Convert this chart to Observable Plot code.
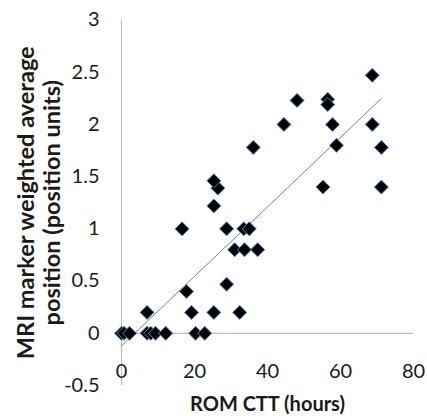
<!DOCTYPE html>
<html>
<head>
<meta charset="utf-8">
<script src="https://cdn.jsdelivr.net/npm/d3@7"></script>
<script src="https://cdn.jsdelivr.net/npm/@observablehq/plot@0.6"></script>
<style>
  html, body { margin: 0; padding: 0; background: #fff; }
  #chart svg { display: block; }
</style>
</head>
<body>
<div id="chart"></div>
<script>
const xHours = [0, 0.7, 2.2, 7, 8, 9.3, 12.1, 20.3, 22.8,
  7, 19.2, 25.3, 32.4,
  17.8, 28.8,
  31, 33.7, 37.3,
  16.6, 28.8, 33.5, 35,
  25.3, 26.4, 25.3,
  36.1, 44.5, 48.1, 56.5, 56.5, 57.8, 58.9, 55.2,
  68.7, 68.7, 71.2, 71.2];
const yPos = [0, 0, 0, 0, 0, 0, 0, 0, 0,
  0.2, 0.2, 0.2, 0.2,
  0.4, 0.47,
  0.8, 0.8, 0.8,
  1, 1, 1, 1,
  1.22, 1.39, 1.46,
  1.78, 2, 2.23, 2.24, 2.19, 2, 1.8, 1.4,
  2.47, 2, 1.78, 1.4];
const xTicks = [0, 20, 40, 60, 80];
const yTicks = [-0.5, 0, 0.5, 1, 1.5, 2, 2.5, 3];
const xTitle = "ROM CTT (hours)";
const yTitle = "MRI marker weighted average\nposition (position units)";

const data = xHours.map((x, i) => ({x, y: yPos[i]}));

const chart = Plot.plot({
  width: 427,
  height: 416,
  marginLeft: 121,
  marginRight: 14,
  marginTop: 19.5,
  marginBottom: 31,
  style: {fontFamily: "Lato, sans-serif", background: "#fff", overflow: "visible"},
  x: {domain: [0, 80]},
  y: {domain: [-0.5, 3]},
  marks: [
    Plot.ruleX([0], {y1: -0.5, y2: 3, stroke: "#bcbcbc", strokeWidth: 1.2}),
    Plot.ruleY([0], {x1: 0, x2: 80, stroke: "#bcbcbc", strokeWidth: 1.2}),
    Plot.axisY({ticks: yTicks, tickFormat: d => String(d), tickSize: 0, tickPadding: 22,
      fontSize: 20, fill: "#1a1a1a", label: null}),
    Plot.axisX({ticks: xTicks, tickFormat: d => String(d), tickSize: 0, tickPadding: 0,
      dy: -22, fontSize: 20, fill: "#1a1a1a", label: null}),
    Plot.linearRegressionY(data, {x: "x", y: "y", ci: 0, stroke: "#7f7f7f", strokeWidth: 1}),
    Plot.dot(data, {x: "x", y: "y", symbol: "diamond2", r: 6.3, fill: "#000", stroke: "#4f81bd", strokeWidth: 1}),
    Plot.text([xTitle], {frameAnchor: "bottom", dy: 25, fontSize: 20, fontWeight: "bold", fill: "#1a1a1a"}),
    Plot.text([yTitle], {frameAnchor: "left", textAnchor: "middle", rotate: -90, dx: -83, dy: 0, fontSize: 23.5, fontWeight: "bold",
      lineHeight: 1.1, fill: "#1a1a1a"})
  ]
});
document.getElementById("chart").append(chart);
</script>
</body>
</html>
